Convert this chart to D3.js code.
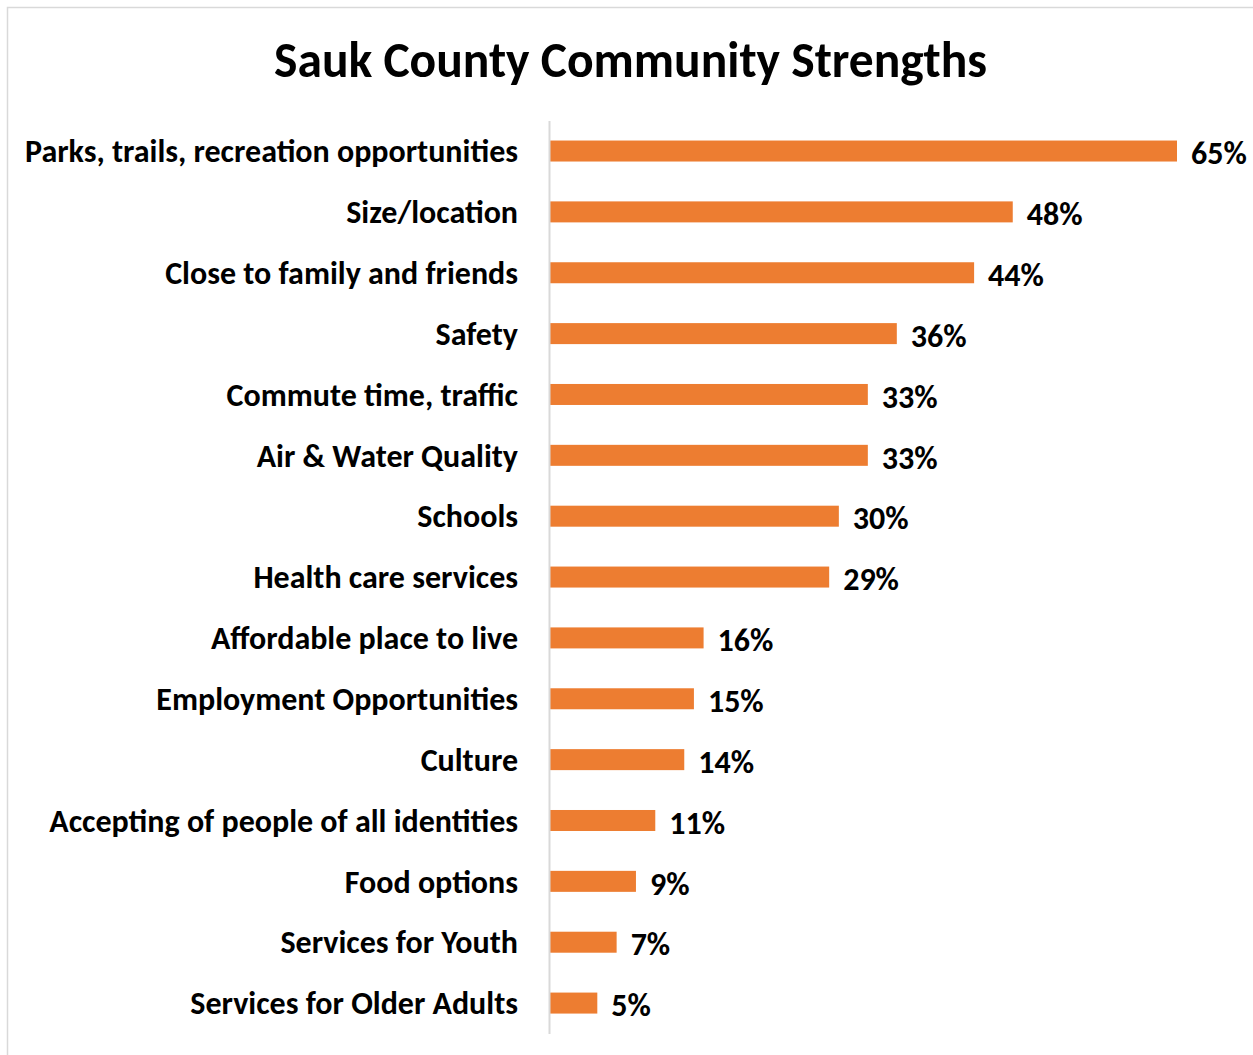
<!DOCTYPE html>
<html>
<head>
<meta charset="utf-8">
<script src="https://cdn.jsdelivr.net/npm/d3@7"></script>
<style>
  html, body { margin: 0; padding: 0; background: #ffffff; }
  svg { display: block; }
  text { font-family: Carlito, Calibri, Lato, "Open Sans", sans-serif; font-weight: bold; fill: #000; }
</style>
</head>
<body>
<svg id="chart" width="1253" height="1055"></svg>
<script>
// Survey responses: share of respondents naming each community strength
const categories = [
  "Parks, trails, recreation opportunities",
  "Size/location",
  "Close to family and friends",
  "Safety",
  "Commute time, traffic",
  "Air & Water Quality",
  "Schools",
  "Health care services",
  "Affordable place to live",
  "Employment Opportunities",
  "Culture",
  "Accepting of people of all identities",
  "Food options",
  "Services for Youth",
  "Services for Older Adults"
];
const values = [65, 48, 44, 36, 33, 33, 30, 29, 16, 15, 14, 11, 9, 7, 5];
const chartTitle = "Sauk County Community Strengths";

const svg = d3.select("#chart");

// chart area frame
svg.append("rect")
  .attr("x", 7.5).attr("y", 7.5)
  .attr("width", 1260).attr("height", 1060)
  .attr("fill", "#fff")
  .attr("stroke", "#d9d9d9")
  .attr("stroke-width", 1.5);

const x = d3.scaleLinear().domain([0, 65]).range([549, 1177]);
const y = d3.scaleBand().domain(categories).range([120.6, 1033.5]).paddingInner(0.655).paddingOuter(0.3275);

// title, sized to its target width
const title = svg.append("text")
  .attr("x", 630.5).attr("y", 60)
  .attr("text-anchor", "middle")
  .attr("dominant-baseline", "central")
  .style("font-size", "44px")
  .text(chartTitle);
const tw = title.node().getComputedTextLength();
title.style("font-size", (44 * 713 / tw).toFixed(2) + "px");

// bars
svg.append("g").selectAll("rect")
  .data(categories)
  .join("rect")
  .attr("x", x(0))
  .attr("y", d => y(d))
  .attr("width", (d, i) => x(values[i]) - x(0))
  .attr("height", y.bandwidth())
  .attr("fill", "#ED7D31");

// category axis on the left
const axis = d3.axisLeft(y).tickSize(0).tickPadding(31);
const gAxis = svg.append("g")
  .attr("transform", `translate(${x(0)},0)`)
  .call(axis);
gAxis.select(".domain").attr("stroke", "#d9d9d9").attr("stroke-width", 2);
gAxis.selectAll(".tick text")
  .attr("font-family", null)
  .style("font-size", "26px")
  .attr("dy", "0.35em");

// fit label size so the longest label spans its width
let longest = 0;
gAxis.selectAll(".tick text").each(function () {
  longest = Math.max(longest, this.getComputedTextLength());
});
const labelSize = 26 * 493 / longest;
gAxis.selectAll(".tick text").style("font-size", labelSize.toFixed(2) + "px");

// value labels
svg.append("g").selectAll("text")
  .data(categories)
  .join("text")
  .attr("x", (d, i) => x(values[i]) + 14)
  .attr("y", d => y(d) + y.bandwidth() / 2 + 2)
  .attr("dy", "0.35em")
  .style("font-size", labelSize.toFixed(2) + "px")
  .text((d, i) => values[i] + "%");
</script>
</body>
</html>
